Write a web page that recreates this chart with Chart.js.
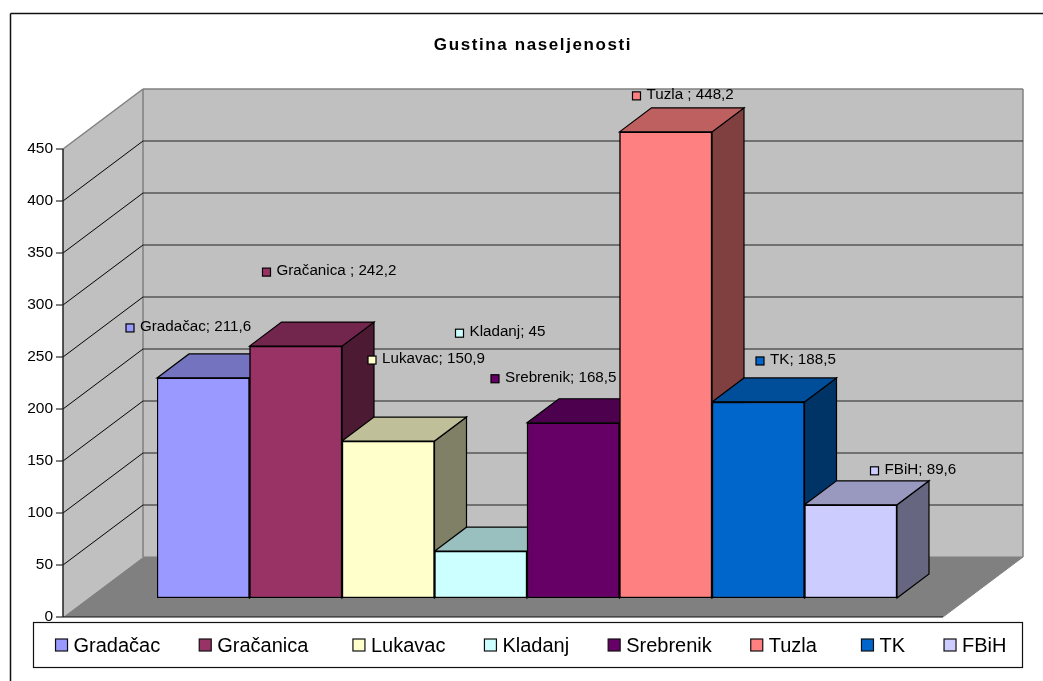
<!DOCTYPE html>
<html>
<head>
<meta charset="utf-8">
<style>
html,body{margin:0;padding:0;background:#fff;}
canvas{display:block;}
</style>
<script src="https://cdn.jsdelivr.net/npm/chart.js@4/dist/chart.umd.min.js"></script>
</head>
<body>
<canvas id="c" width="1043" height="681"></canvas>
<script>
const categories = ["Gradačac","Gračanica ","Lukavac","Kladanj","Srebrenik","Tuzla ","TK","FBiH"];
const values = [211.6,242.2,150.9,45,168.5,448.2,188.5,89.6];
const valueLabels = ["211,6","242,2","150,9","45","168,5","448,2","188,5","89,6"];
const frontColors = ["#9999FF","#993366","#FFFFCC","#CCFFFF","#660066","#FF8080","#0066CC","#CCCCFF"];
const topColors = ["#7373BF","#73264D","#BFBF99","#99BFBF","#4D004D","#BF6060","#004D99","#9999BF"];
const sideColors = ["#4D4D80","#4D1A33","#808066","#668080","#330033","#804040","#003366","#666680"];
const yTicks = [0,50,100,150,200,250,300,350,400,450];
const chartTitle = "Gustina naseljenosti";
// data label placement relative to each bar's top-left corner (marker left, marker centre y)
const labelOffsets = [[-31,-50],[13,-74],[26,-81],[21,-218],[-36,-44],[13,-36],[44,-41],[66,-34]];

const DEPTH_BAR = {x:32,y:-24};
const WALL = {x:80,y:-60};      // axis front plane to back wall
const FRONT = {x:-94,y:19};     // bar plane to axis front plane
const FLOOR_RIGHT = 46;

function poly(ctx,pts,fill,stroke,lw){
  ctx.beginPath();pts.forEach((p,i)=>i?ctx.lineTo(p[0],p[1]):ctx.moveTo(p[0],p[1]));ctx.closePath();
  if(fill){ctx.fillStyle=fill;ctx.fill();}
  if(stroke){ctx.strokeStyle=stroke;ctx.lineWidth=lw||1;ctx.stroke();}
}
function line(ctx,a,b,c,w){ctx.beginPath();ctx.moveTo(a[0],a[1]);ctx.lineTo(b[0],b[1]);ctx.strokeStyle=c;ctx.lineWidth=w||1;ctx.stroke();}

const frame3d = {
  id:'frame3d',
  afterLayout(chart){
    const lg=chart.legend; lg.right+=19; lg.top-=1; lg.bottom+=12; lg.adjustHitBoxes();
    const t=chart.titleBlock;
    t.left+=11.5; t.right+=11.5;
    if(!t._spaced){
      const d=t.draw;
      t.draw=function(){chart.ctx.letterSpacing='1.6px';d.call(t);chart.ctx.letterSpacing='0px';};
      t._spaced=true;
    }
  },
  beforeDatasetsDraw(chart){
    const ctx=chart.ctx,y=chart.scales.y,a=chart.chartArea;
    ctx.save();
    const fx=a.left+FRONT.x, p0=y.getPixelForValue(0)+FRONT.y, pm=y.getPixelForValue(450)+FRONT.y;
    const bx=fx+WALL.x, bRight=a.right+FLOOR_RIGHT+WALL.x;
    // outer frame (cropped at the right and bottom of the picture)
    line(ctx,[10.5,681],[10.5,13.5],'#111',1.5);
    line(ctx,[10.5,13.5],[1043,13.5],'#111',1.5);
    // walls and floor
    poly(ctx,[[bx,pm+WALL.y],[bRight,pm+WALL.y],[bRight,p0+WALL.y],[bx,p0+WALL.y]],'#C0C0C0');
    poly(ctx,[[fx,pm],[bx,pm+WALL.y],[bx,p0+WALL.y],[fx,p0]],'#C0C0C0');
    poly(ctx,[[fx,p0],[bx,p0+WALL.y],[bRight,p0+WALL.y],[a.right+FLOOR_RIGHT,p0]],'#808080');
    line(ctx,[fx,pm],[bx,pm+WALL.y],'#808080',1.5);
    line(ctx,[bx,pm+WALL.y],[bRight,pm+WALL.y],'#808080',1.5);
    line(ctx,[bx,pm+WALL.y],[bx,p0+WALL.y],'#808080',1.5);
    line(ctx,[bRight,pm+WALL.y],[bRight,p0+WALL.y],'#808080',1.5);
    line(ctx,[bx,p0+WALL.y],[bRight,p0+WALL.y],'#808080',1);
    // gridlines and tick marks
    yTicks.forEach(v=>{
      const py=y.getPixelForValue(v)+FRONT.y;
      if(v>0&&v<450){
        line(ctx,[fx,py],[bx,py+WALL.y],'#000',1);
        line(ctx,[bx,py+WALL.y],[bRight,py+WALL.y],'#222',1.2);
      }
      line(ctx,[fx-7,py],[fx,py],'#000',1);
    });
    line(ctx,[fx,pm],[fx,p0],'#222',1.5);
    line(ctx,[fx,p0],[a.right+FLOOR_RIGHT,p0],'#111',1.2);
    line(ctx,[a.right+FLOOR_RIGHT,p0],[bRight,p0+WALL.y],'#808080',1);
    // bar depth, left to right; the library paints the bar fronts over it
    const meta=chart.getDatasetMeta(0),d=DEPTH_BAR;
    ctx.lineJoin='miter';
    meta.data.forEach((b,i)=>{
      const l=b.x-b.width/2,r=b.x+b.width/2,t=b.y,bt=b.base;
      poly(ctx,[[r,t],[r+d.x,t+d.y],[r+d.x,bt+d.y],[r,bt]],sideColors[i],'#000',1.2);
      poly(ctx,[[l,t],[l+d.x,t+d.y],[r+d.x,t+d.y],[r,t]],topColors[i],'#000',1.2);
    });
    ctx.restore();
  },
  afterDatasetsDraw(chart){
    const ctx=chart.ctx,meta=chart.getDatasetMeta(0);
    ctx.save();
    ctx.font='15.2px "Liberation Sans"';
    ctx.textBaseline='middle';ctx.textAlign='left';
    meta.data.forEach((b,i)=>{
      const l=b.x-b.width/2;
      const mx=l+labelOffsets[i][0], my=b.y+labelOffsets[i][1];
      ctx.fillStyle=frontColors[i];ctx.strokeStyle='#000';ctx.lineWidth=1.2;
      ctx.fillRect(mx,my-4,8,8);ctx.strokeRect(mx,my-4,8,8);
      ctx.fillStyle='#000';
      ctx.fillText(categories[i]+"; "+valueLabels[i],mx+14,my-1);
    });
    ctx.restore();
  },
  afterDraw(chart){
    const ctx=chart.ctx,lg=chart.legend;
    ctx.save();
    ctx.strokeStyle='#111';ctx.lineWidth=1.2;
    ctx.strokeRect(33.5,622.5,989,45);
    lg.legendHitBoxes.forEach((h,i)=>{
      const cy=645;
      ctx.fillStyle=frontColors[i];
      ctx.fillRect(h.left,cy-6,12,12);ctx.strokeRect(h.left,cy-6,12,12);
    });
    ctx.restore();
  }
};

new Chart(document.getElementById('c'),{
  type:'bar',
  data:{labels:categories,datasets:[{data:values,backgroundColor:frontColors,borderColor:'#000',borderWidth:1.5,borderSkipped:false,barPercentage:1,categoryPercentage:1}]},
  options:{
    responsive:false,animation:false,
    layout:{padding:{left:0,right:0,top:0,bottom:27}},
    scales:{
      x:{display:false},
      y:{min:0,max:450,
        grid:{display:false,drawTicks:false},border:{display:false},
        ticks:{stepSize:50,padding:104,labelOffset:19,color:'#000',font:{family:'"Liberation Sans"',size:15.5}},
        afterFit(s){s.width=157;s.paddingTop=0;s.paddingBottom=0;}},
      yPad:{position:'right',display:true,grid:{display:false,drawTicks:false},border:{display:false},
        ticks:{display:false},afterFit(s){s.width=146;s.paddingTop=0;s.paddingBottom=0;}}
    },
    plugins:{
      title:{display:true,text:chartTitle,color:'#000',font:{family:'"Liberation Sans"',size:17,weight:'bold'},padding:{top:35.5,bottom:74.1}},
      legend:{display:true,position:'bottom',maxHeight:56,
        labels:{color:'#000',boxWidth:8,boxHeight:8,padding:39,font:{family:'"Liberation Sans"',size:20},
          generateLabels(chart){return categories.map((c,i)=>({text:c,fillStyle:'rgba(0,0,0,0)',strokeStyle:'rgba(0,0,0,0)',lineWidth:0,index:i}));}}},
      tooltip:{enabled:false}
    }
  },
  plugins:[frame3d]
});
</script>
</body>
</html>
